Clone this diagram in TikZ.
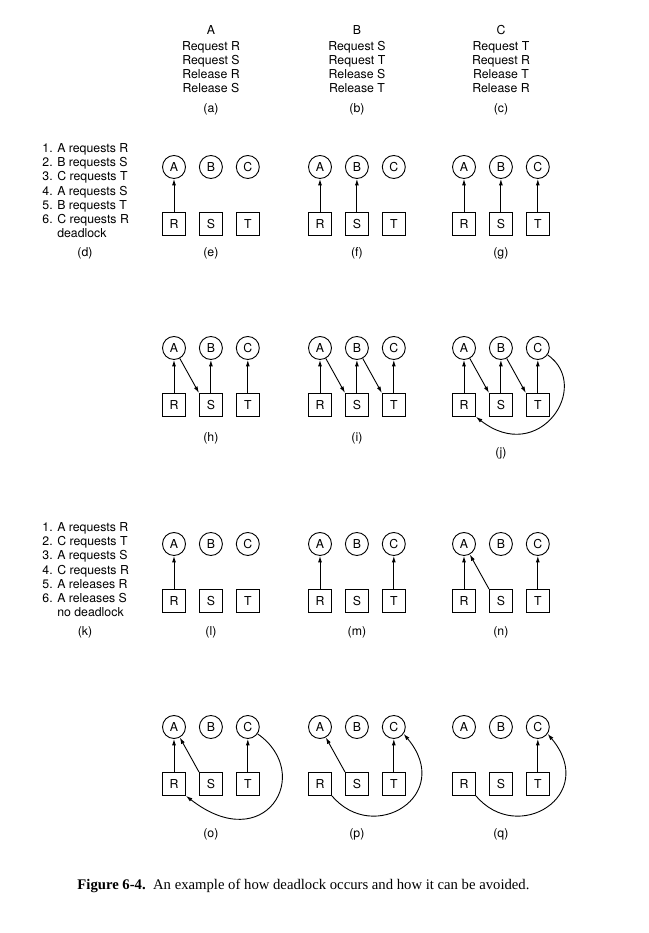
\documentclass[tikz,border=0pt]{standalone}
\usepackage{fontspec}
\setmainfont{TeX Gyre Heros}
\newfontfamily\capfont{Liberation Serif}
\usetikzlibrary{arrows.meta,positioning}
% one resource graph: #1 gap to label, #2 prefix, #3 place of A, #4 label
\newcommand{\rag}[4][14pt]{%
  \node[proc] (#2A) at (#3) {A};
  \node[proc,right=13pt of #2A] (#2B) {B};
  \node[proc,right=13pt of #2B] (#2C) {C};
  \node[res,below=33pt of #2A] (#2R) {R};
  \node[res,right=13pt of #2R] (#2S) {S};
  \node[res,right=13pt of #2S] (#2T) {T};
  \node[below=#1 of #2S] (#2lab) {(#4)};
}

\begin{document}
\begin{tikzpicture}[x=1pt,y=1pt,line width=0.9pt,inner sep=0pt,
  font={\fontsize{12.3}{14.2}\selectfont},
  proc/.style={draw,circle,minimum size=23pt},
  res/.style={draw,rectangle,minimum size=23pt},
  arr/.style={-{Latex[length=6.5pt,width=4pt]}}]
\useasboundingbox (0,0) rectangle (648,933);
% the three processes
\node[align=center,anchor=north] (pa) at (211,908) {A\\[1.5pt]Request R\\Request S\\Release R\\Release S};
\node[align=center,anchor=north] (pb) at (357,908) {B\\[1.5pt]Request S\\Request T\\Release S\\Release T};
\node[align=center,anchor=north] (pc) at (501,908) {C\\[1.5pt]Request T\\Request R\\Release T\\Release R};
\node (la) at (211,824) {(a)};
\node (lb) at (357,824) {(b)};
\node (lc) at (501,824) {(c)};
% first order
\node[align=left,anchor=north west] (ld) at (42,790) {1. A requests R\\2. B requests S\\3. C requests T\\4. A requests S\\5. B requests T\\6. C requests R\\\hphantom{6. }deadlock};
\node (labd) at (85,680) {(d)};
\rag[11pt]{e}{174,766}{e}
\rag[11pt]{f}{320,766}{f}
\rag[11pt]{g}{464,766}{g}
\draw[arr] (eR) -- (eA);
\draw[arr] (fR) -- (fA);
\draw[arr] (fS) -- (fB);
\draw[arr] (gR) -- (gA);
\draw[arr] (gS) -- (gB);
\draw[arr] (gT) -- (gC);
\rag[14.8pt]{h}{174,585}{h}
\rag[14.8pt]{i}{320,585}{i}
\rag[30pt]{j}{464,585}{j}
\draw[arr] (hR) -- (hA);
\draw[arr] (hS) -- (hB);
\draw[arr] (hT) -- (hC);
\draw[arr] (hA) -- (hS.north west);
\draw[arr] (iR) -- (iA);
\draw[arr] (iS) -- (iB);
\draw[arr] (iT) -- (iC);
\draw[arr] (iA) -- (iS.north west);
\draw[arr] (iB) -- (iT.north west);
\draw[arr] (jR) -- (jA);
\draw[arr] (jS) -- (jB);
\draw[arr] (jT) -- (jC);
\draw[arr] (jA) -- (jS.north west);
\draw[arr] (jB) -- (jT.north west);
\draw[arr] (jC.-35) to[out=-35,in=-38,out distance=55pt,in distance=80pt] (jR.south east);
% second order
\node[align=left,anchor=north west] (lk) at (42,411) {1. A requests R\\2. C requests T\\3. A requests S\\4. C requests R\\5. A releases R\\6. A releases S\\\hphantom{6. }no deadlock};
\node (labk) at (85,301) {(k)};
\rag[13.7pt]{l}{174,389}{l}
\rag[13.7pt]{m}{320,389}{m}
\rag[13.7pt]{n}{464,389}{n}
\draw[arr] (lR) -- (lA);
\draw[arr] (mR) -- (mA);
\draw[arr] (mT) -- (mC);
\draw[arr] (nR) -- (nA);
\draw[arr] (nS.north west) -- (nA);
\draw[arr] (nT) -- (nC);
\rag[32pt]{o}{174,206}{o}
\rag[32pt]{p}{320,206}{p}
\rag[32pt]{q}{464,206}{q}
\draw[arr] (oR) -- (oA);
\draw[arr] (oS.north west) -- (oA);
\draw[arr] (oT) -- (oC);
\draw[arr] (oC.-35) to[out=-35,in=-38,out distance=70pt,in distance=100pt] (oR.south east);
\draw[arr] (pS.north west) -- (pA);
\draw[arr] (pT) -- (pC);
\draw[arr] (pR.south east) to[out=-50,in=-50,out distance=65pt,in distance=80pt] (pC.-35);
\draw[arr] (qT) -- (qC);
\draw[arr] (qR.south east) to[out=-50,in=-50,out distance=65pt,in distance=80pt] (qC.-35);
% caption
\node[anchor=base west,font={\capfont\fontsize{14.7}{17}\selectfont}] (cap) at (77,43.5) {\textbf{Figure 6-4.}\ \ An example of how deadlock occurs and how it can be avoided.};
\end{tikzpicture}
\end{document}
